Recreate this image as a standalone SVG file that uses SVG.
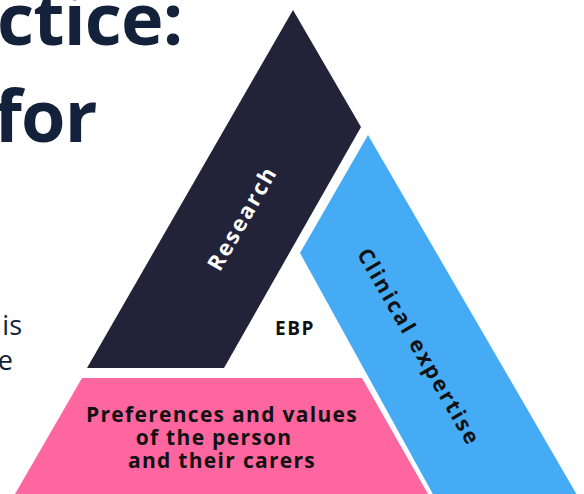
<svg xmlns="http://www.w3.org/2000/svg" width="584" height="494" viewBox="0 0 584 494">
  <style>
    .head { font-family: "Open Sans", "Liberation Sans", sans-serif; font-weight: 700; font-size: 72px; letter-spacing: -0.8px; fill: #13213a; }
    .body { font-family: "Open Sans", "Liberation Sans", sans-serif; font-weight: 400; font-size: 27px; fill: #13213a; }
    .lbl { font-family: "Open Sans", "Liberation Sans", sans-serif; font-weight: 700; font-size: 21px; letter-spacing: 1.3px; text-anchor: middle; }
    .dark { fill: #111111; }
    .light { fill: #ffffff; }
  </style>
  <rect width="584" height="494" fill="#ffffff"/>
  <g id="heading">
    <text class="head" x="-3" y="45">ctice:</text>
    <text class="head" x="-6" y="142">for</text>
  </g>
  <g id="body-text">
    <text class="body" x="22" y="335" text-anchor="end">is</text>
    <text class="body" x="13" y="370" text-anchor="end">e</text>
  </g>
  <g id="connectors"></g>
  <g id="research">
    <polygon points="293,10 361,127 224,368 87,368" fill="#222338"/>
    <text class="lbl light" style="font-size:22px;letter-spacing:2px" transform="translate(242,218) rotate(-60)" x="0" y="8">Research</text>
  </g>
  <g id="clinical">
    <polygon points="368,135 584,507 440,507 300,253" fill="#45abf5"/>
    <text class="lbl dark" style="font-size:21.5px;letter-spacing:2.2px" transform="translate(419,347) rotate(60)" x="0" y="7.5">Clinical expertise</text>
  </g>
  <g id="preferences">
    <polygon points="82,378 362,378 428,494 15,494" fill="#fe66a0"/>
    <text class="lbl dark" x="222" y="422">Preferences and values</text>
    <text class="lbl dark" x="214" y="445">of the person</text>
    <text class="lbl dark" x="222" y="468">and their carers</text>
  </g>
  <g id="ebp">
    <text class="lbl dark" style="font-size:19px;letter-spacing:1.5px" x="295" y="335">EBP</text>
  </g>
</svg>
